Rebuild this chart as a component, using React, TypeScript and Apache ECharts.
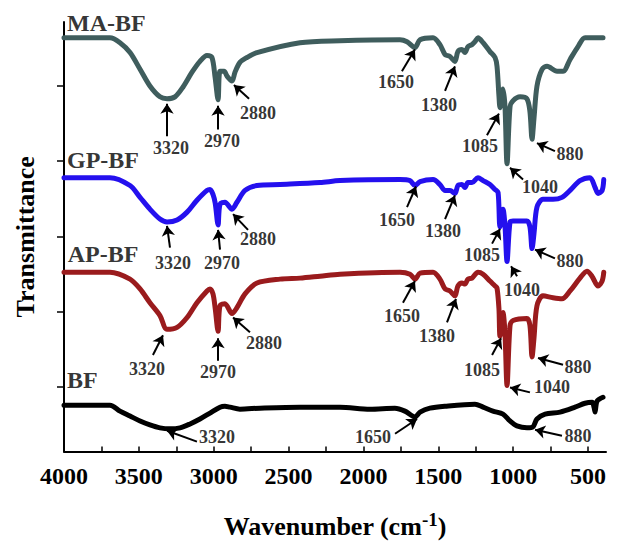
import React, { useEffect, useRef } from 'react';
import * as echarts from 'echarts';

const FONT = '"Times New Roman", "Liberation Serif", serif';

// ---- spectra (wavenumber cm-1, offset transmittance a.u.) ----
const maWn = [4000, 3693, 3626, 3559, 3492, 3426, 3359, 3312, 3259, 3205, 3145, 3092, 3045, 3012, 2991, 2971, 2958, 2931, 2911, 2878, 2858, 2825, 2778, 2711, 2424, 2157, 1756, 1709, 1656, 1622, 1535, 1489, 1455, 1422, 1389, 1369, 1342, 1322, 1302, 1275, 1255, 1235, 1201, 1155, 1121, 1108, 1095, 1088, 1068, 1055, 1041, 1021, 1001, 954, 908, 888, 874, 861, 841, 807, 774, 707, 667, 620, 567, 520, 400];
const maT = [4.20, 4.20, 4.15, 4.05, 3.88, 3.71, 3.60, 3.58, 3.60, 3.70, 3.85, 3.96, 4.02, 4.00, 3.80, 3.57, 3.86, 3.86, 3.81, 3.76, 3.85, 3.95, 4.00, 4.05, 4.15, 4.17, 4.18, 4.16, 4.10, 4.18, 4.20, 4.13, 4.03, 4.01, 3.96, 4.06, 4.08, 4.05, 4.11, 4.13, 4.16, 4.20, 4.15, 4.06, 4.00, 3.91, 3.61, 3.49, 3.68, 3.51, 2.92, 3.50, 3.56, 3.60, 3.58, 3.45, 3.17, 3.38, 3.71, 3.88, 3.91, 3.86, 3.86, 3.98, 4.11, 4.20, 4.20];

const gpWn = [4000, 3693, 3559, 3492, 3426, 3359, 3312, 3245, 3178, 3112, 3045, 3025, 3005, 2990, 2971, 2958, 2925, 2878, 2845, 2791, 2711, 2557, 2290, 2157, 1756, 1689, 1656, 1622, 1535, 1489, 1455, 1422, 1389, 1369, 1342, 1322, 1302, 1275, 1235, 1201, 1155, 1121, 1101, 1088, 1068, 1055, 1041, 1021, 1001, 908, 888, 874, 861, 841, 801, 734, 674, 620, 554, 487, 453, 433, 406, 395];
const gpT = [2.78, 2.78, 2.70, 2.58, 2.46, 2.36, 2.33, 2.35, 2.43, 2.55, 2.65, 2.66, 2.61, 2.52, 2.30, 2.51, 2.53, 2.46, 2.53, 2.65, 2.70, 2.71, 2.73, 2.75, 2.76, 2.75, 2.70, 2.74, 2.76, 2.71, 2.65, 2.65, 2.62, 2.70, 2.71, 2.68, 2.73, 2.73, 2.78, 2.75, 2.71, 2.66, 2.63, 2.28, 2.46, 2.30, 1.93, 2.33, 2.34, 2.34, 2.28, 2.06, 2.21, 2.48, 2.56, 2.56, 2.58, 2.65, 2.75, 2.78, 2.68, 2.62, 2.65, 2.76];

const apWn = [4000, 3693, 3559, 3492, 3426, 3359, 3312, 3245, 3178, 3112, 3045, 3025, 3005, 2990, 2971, 2958, 2925, 2878, 2845, 2791, 2711, 2557, 2424, 2290, 2157, 1756, 1689, 1656, 1622, 1535, 1489, 1455, 1422, 1389, 1369, 1342, 1322, 1302, 1275, 1235, 1201, 1155, 1121, 1108, 1095, 1088, 1068, 1055, 1041, 1021, 1001, 908, 888, 874, 861, 841, 801, 734, 674, 620, 554, 507, 474, 433, 406, 395];
const apT = [1.82, 1.82, 1.75, 1.65, 1.51, 1.38, 1.24, 1.26, 1.36, 1.51, 1.63, 1.65, 1.60, 1.45, 1.22, 1.48, 1.50, 1.40, 1.46, 1.60, 1.71, 1.75, 1.76, 1.78, 1.80, 1.82, 1.80, 1.75, 1.81, 1.82, 1.75, 1.65, 1.63, 1.58, 1.68, 1.71, 1.70, 1.75, 1.76, 1.82, 1.80, 1.73, 1.68, 1.66, 1.45, 1.17, 1.41, 1.21, 0.67, 1.28, 1.33, 1.35, 1.28, 0.96, 1.15, 1.48, 1.58, 1.56, 1.55, 1.63, 1.76, 1.83, 1.78, 1.68, 1.73, 1.82];

const bfWn = [4000, 3693, 3626, 3559, 3492, 3426, 3359, 3292, 3225, 3158, 3092, 3025, 2958, 2925, 2891, 2825, 2691, 2424, 2157, 1957, 1790, 1723, 1656, 1622, 1556, 1455, 1255, 1201, 1135, 1068, 1021, 975, 908, 868, 841, 787, 687, 587, 520, 473, 460, 453, 440, 400];
const bfT = [0.47, 0.47, 0.41, 0.36, 0.31, 0.27, 0.24, 0.23, 0.24, 0.28, 0.33, 0.39, 0.45, 0.46, 0.45, 0.43, 0.44, 0.45, 0.45, 0.43, 0.44, 0.41, 0.35, 0.40, 0.44, 0.46, 0.48, 0.45, 0.41, 0.38, 0.31, 0.26, 0.24, 0.25, 0.33, 0.38, 0.40, 0.45, 0.49, 0.50, 0.45, 0.40, 0.51, 0.55];

const seriesNames = ['MA-BF', 'GP-BF', 'AP-BF', 'BF'];
const seriesColors = ['#3f5d5d', '#2410ee', '#9a1b1d', '#000000'];
const seriesWn = [maWn, gpWn, apWn, bfWn];
const seriesT = [maT, gpT, apT, bfT];
const nameLabelPos = [[3980, 4.35], [3980, 2.96], [3975, 2.0], [3980, 0.73]];

// ---- axis ticks ----
const xLabelValues = [4000, 3500, 3000, 2500, 2000, 1500, 1000, 500];
const xTickValues = [4000, 3750, 3500, 3250, 3000, 2750, 2500, 2250, 2000, 1750, 1500, 1250, 1000, 750, 500];
const yTickValues = [0.66, 1.42, 2.18, 2.95, 3.71];

// ---- peak annotations: text, arrow tip, arrow tail, label centre ----
const annText = [
  '3320', '2970', '2880', '1650', '1380', '1085', '1040', '880',
  '3320', '2970', '2880', '1650', '1380', '1085', '1040', '880',
  '3320', '2970', '2880', '1650', '1380', '1085', '1040', '880',
  '3320', '1650', '880',
];
const annTip = [
  [3312, 3.53], [2971, 3.51], [2865, 3.72], [1656, 4.08], [1389, 3.91], [1095, 3.43], [1021, 2.88], [841, 3.13],
  [3312, 2.29], [2971, 2.25], [2871, 2.41], [1649, 2.69], [1389, 2.60], [1088, 2.26], [1014, 1.88], [854, 2.05],
  [3339, 1.18], [2971, 1.15], [2871, 1.36], [1656, 1.73], [1382, 1.55], [1081, 1.15], [1021, 0.65], [834, 0.95],
  [3312, 0.21], [1642, 0.33], [854, 0.22],
];
const annTail = [
  [3312, 3.20], [2971, 3.27], [2764, 3.58], [1743, 3.86], [1455, 3.66], [1175, 3.21], [934, 2.76], [721, 3.05],
  [3292, 2.07], [2958, 2.05], [2771, 2.25], [1709, 2.48], [1455, 2.36], [1141, 2.11], [974, 1.78], [721, 1.96],
  [3406, 0.98], [2971, 0.92], [2758, 1.21], [1736, 1.51], [1442, 1.31], [1141, 0.98], [888, 0.60], [667, 0.88],
  [3112, 0.10], [1789, 0.18], [674, 0.16],
];
const annLabel = [
  [3285, 3.08], [2945, 3.15], [2704, 3.44], [1783, 3.75], [1495, 3.52], [1222, 3.10], [821, 2.68], [620, 3.02],
  [3272, 1.91], [2945, 1.91], [2704, 2.16], [1776, 2.35], [1469, 2.24], [1208, 1.99], [941, 1.64], [620, 1.93],
  [3446, 0.84], [2971, 0.81], [2664, 1.10], [1743, 1.38], [1509, 1.17], [1208, 0.83], [741, 0.65], [567, 0.86],
  [2978, 0.15], [1936, 0.15], [567, 0.16],
];

export default function App() {
  const ref = useRef<HTMLDivElement>(null);

  useEffect(() => {
    document.body.style.margin = '0';
    const chart = echarts.init(ref.current as HTMLDivElement, null, { renderer: 'svg' });

    const lineSeries = seriesNames.map((name, i) => ({
      name,
      type: 'line',
      data: seriesWn[i].map((w, j) => [w, seriesT[i][j]]),
      showSymbol: false,
      symbol: 'none',
      smooth: 0.3,
      lineStyle: { color: seriesColors[i], width: 5, join: 'round', cap: 'round' },
      itemStyle: { color: seriesColors[i] },
      silent: true,
      z: 2,
    }));

    const option = {
      animation: false,
      backgroundColor: '#ffffff',
      grid: { left: 64, top: 22, right: 12, bottom: 86, containLabel: false },
      xAxis: {
        type: 'value',
        inverse: true,
        min: 380,
        max: 4000,
        axisLine: { show: true, onZero: false, lineStyle: { color: '#000', width: 2 } },
        axisTick: { show: true, inside: true, length: 5, customValues: xTickValues, lineStyle: { color: '#000', width: 1.5 } },
        axisLabel: {
          customValues: xLabelValues,
          formatter: (v: number) => String(v),
          fontSize: 24,
          fontWeight: 'bold',
          fontFamily: FONT,
          color: '#000',
          margin: 12,
        },
        splitLine: { show: false },
        name: '{t|Wavenumber (cm}{s|-1}{t|)}',
        nameLocation: 'middle',
        nameGap: 58,
        nameTextStyle: {
          rich: {
            t: { fontSize: 26, fontWeight: 'bold', fontFamily: FONT, color: '#000' },
            s: { fontSize: 19, fontWeight: 'bold', fontFamily: FONT, color: '#000', padding: [0, 0, 14, 0] },
          },
        },
      },
      yAxis: {
        type: 'value',
        min: 0,
        max: 4.36,
        axisLine: { show: true, onZero: false, lineStyle: { color: '#000', width: 2 } },
        axisTick: { show: true, inside: false, length: 7, customValues: yTickValues, lineStyle: { color: '#000', width: 1.5 } },
        axisLabel: { show: false },
        splitLine: { show: false },
        name: 'Transmittance',
        nameLocation: 'middle',
        nameGap: 26,
        nameTextStyle: { fontSize: 26, fontWeight: 'bold', fontFamily: FONT, color: '#000' },
      },
      series: [
        ...lineSeries,
        {
          type: 'lines',
          coordinateSystem: 'cartesian2d',
          silent: true,
          z: 5,
          symbol: ['none', 'arrow'],
          symbolSize: 10,
          lineStyle: { color: '#000', width: 2, opacity: 1 },
          data: annTip.map((tip, i) => ({ coords: [annTail[i], tip] })),
        },
        {
          type: 'scatter',
          silent: true,
          symbolSize: 0,
          z: 6,
          data: annLabel.map((p, i) => ({ value: p, name: annText[i] })),
          label: {
            show: true,
            position: 'inside',
            formatter: '{b}',
            fontSize: 18,
            fontWeight: 'bold',
            fontFamily: FONT,
            color: '#000',
          },
        },
        {
          type: 'scatter',
          silent: true,
          symbolSize: 0,
          z: 6,
          data: nameLabelPos.map((p, i) => ({ value: p, name: seriesNames[i] })),
          label: {
            show: true,
            position: 'right',
            distance: 0,
            formatter: '{b}',
            fontSize: 24,
            fontWeight: 'bold',
            fontFamily: FONT,
            color: '#000',
          },
        },
      ],
    };

    chart.setOption(option as any);
    return () => chart.dispose();
  }, []);

  return (
    <div
      ref={ref}
      style={{ position: 'absolute', left: 0, top: 0, width: 618, height: 544, background: '#fff' }}
    />
  );
}
